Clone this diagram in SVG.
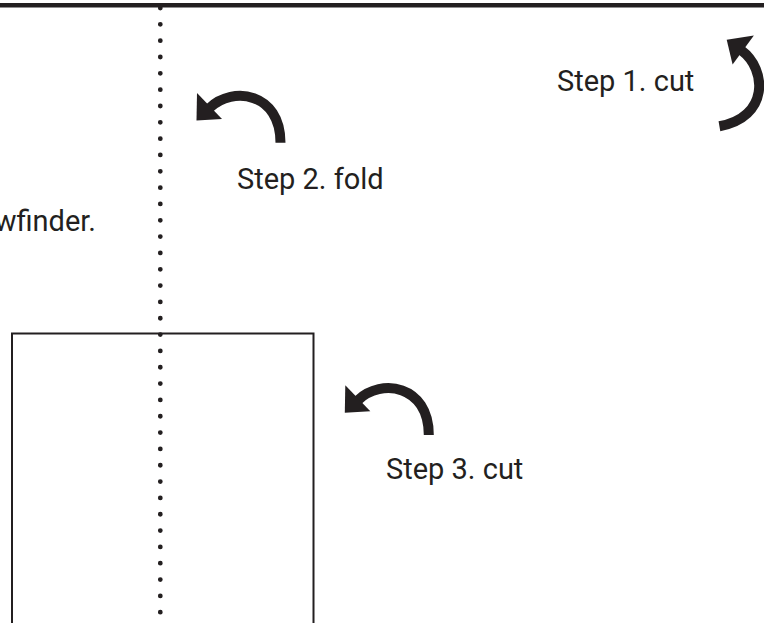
<svg xmlns="http://www.w3.org/2000/svg" xmlns:xlink="http://www.w3.org/1999/xlink" width="764" height="623" viewBox="0 0 764 623">
<style>
.lbl{font-family:Roboto,"Liberation Sans",sans-serif;font-size:29px;fill:#231f20}
.arc{fill:none;stroke:#231f20;stroke-width:10}
.head{fill:#231f20}
</style>
<defs>
<g id="arrow">
<path class="arc" d="M84,22.2 C84,-27.8 36.5,-35 13,-12.5"/>
<polygon class="head" points="0.5,-27.5 0,0 25.5,-1.5"/>
</g>
</defs>
<rect width="764" height="623" fill="#ffffff"/>
<g id="fold-line">
<line x1="160.3" y1="8" x2="160.3" y2="623" stroke="#231f20" stroke-width="4.8" stroke-linecap="round" stroke-dasharray="0 16.33"/>
</g>
<g id="top-edge">
<line x1="0" y1="5.3" x2="764" y2="5.3" stroke="#231f20" stroke-width="4.5"/>
</g>
<g id="frame">
<rect x="12" y="333.5" width="301.5" height="400" fill="none" stroke="#231f20" stroke-width="2"/>
</g>
<g id="connectors">
<use xlink:href="#arrow" transform="translate(726.7,39.7) rotate(80)"/>
<use xlink:href="#arrow" transform="translate(196.5,120.5)"/>
<use xlink:href="#arrow" transform="translate(344.8,412.8)"/>
</g>
<g id="step1"><text class="lbl" x="557" y="90.7">Step 1. cut</text></g>
<g id="step2"><text class="lbl" x="237" y="189">Step 2. fold</text></g>
<g id="step3"><text class="lbl" x="386" y="479.3">Step 3. cut</text></g>
<g id="caption"><text class="lbl" x="96" y="231" text-anchor="end">wfinder.</text></g>
</svg>
